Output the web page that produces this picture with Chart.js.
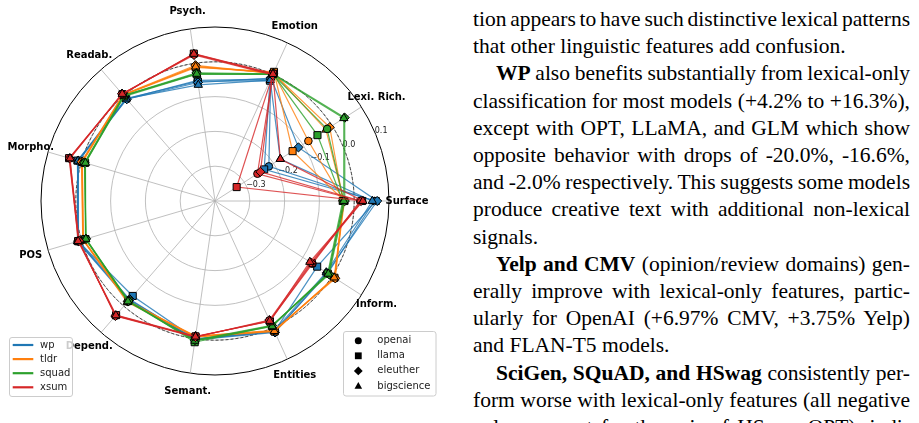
<!DOCTYPE html>
<html>
<head>
<meta charset="utf-8">
<script src="https://cdn.jsdelivr.net/npm/chart.js@4.4.0/dist/chart.umd.min.js"></script>
<style>
  html, body { margin: 0; padding: 0; background: #fff; }
  body { width: 919px; height: 423px; overflow: hidden; position: relative; }
  #chartBox { position: absolute; left: 0; top: 0; width: 440px; height: 423px; }
  #text {
    position: absolute; left: 473px; top: 6px; width: 437px;
    font-family: "Liberation Serif", "Times New Roman", serif;
    font-size: 21.5px; line-height: 27.2px; color: #000;
  }
  #text .ln { white-space: nowrap; }
  #text .ind { padding-left: 23px; }
</style>
</head>
<body>
<div id="chartBox"><canvas id="radar" width="440" height="423"></canvas></div>

<div id="text">
  <div class="ln j"><span>tion appears to have such distinctive lexical patterns</span></div>
  <div class="ln"><span>that other linguistic features add confusion.</span></div>
  <div class="ln j ind"><span><b>WP</b> also benefits substantially from lexical-only</span></div>
  <div class="ln j"><span>classification for most models (+4.2% to +16.3%),</span></div>
  <div class="ln j"><span>except with OPT, LLaMA, and GLM which show</span></div>
  <div class="ln j"><span>opposite behavior with drops of -20.0%, -16.6%,</span></div>
  <div class="ln j"><span>and -2.0% respectively. This suggests some models</span></div>
  <div class="ln j"><span>produce creative text with additional non-lexical</span></div>
  <div class="ln"><span>signals.</span></div>
  <div class="ln j ind"><span><b>Yelp and CMV</b> (opinion/review domains) gen-</span></div>
  <div class="ln j"><span>erally improve with lexical-only features, partic-</span></div>
  <div class="ln j"><span>ularly for OpenAI (+6.97% CMV, +3.75% Yelp)</span></div>
  <div class="ln"><span>and FLAN-T5 models.</span></div>
  <div class="ln j ind"><span><b>SciGen, SQuAD, and HSwag</b> consistently per-</span></div>
  <div class="ln j"><span>form worse with lexical-only features (all negative</span></div>
  <div class="ln j"><span>values except for the pair of HSwag-OPT), indi-</span></div>
</div>

<script>
// axes, counter-clockwise from the right (as in the figure)
const axisLabels = ["Surface", "Lexi. Rich.", "Emotion", "Psych.", "Readab.", "Morpho.",
  "POS", "Depend.", "Semant.", "Entities", "Inform."];
const rTicks = [-0.3, -0.2, -0.1, 0.0, 0.1];
const zeroRef = 0.0;

const domains = ["wp", "tldr", "squad", "xsum"];
const families = ["openai", "llama", "eleuther", "bigscience"];

// values per axis, same order as axisLabels
const wpOpenai     = [0.058, -0.216, -0.015, -0.050, -0.012, 0.011, 0.011, -0.024, 0.002, 0.013, -0.015];
const wpLlama      = [0.062, -0.232, -0.020, -0.053, -0.010, 0.012, 0.010, -0.039, 0.000, 0.012, -0.051];
const wpEleuther   = [0.066, -0.115, -0.012, -0.056, -0.013, 0.009, 0.009, -0.026, 0.003, 0.015, -0.018];
const wpBigscience = [0.052, -0.177, -0.018, -0.063, -0.011, 0.010, 0.012, -0.022, 0.001, 0.010, -0.020];

const tldrOpenai     = [-0.030, -0.081, 0.005, -0.009, 0.003, -0.001, -0.005, -0.017, -0.007, 0.010, 0.009];
const tldrLlama      = [-0.028, -0.135, 0.008, -0.012, 0.002, -0.002, -0.006, -0.020, -0.005, 0.012, 0.008];
const tldrEleuther   = [-0.032, -0.008, 0.003, -0.006, 0.004, 0.000, -0.004, -0.018, -0.008, 0.009, 0.011];
const tldrBigscience = [-0.030, -0.021, 0.004, -0.010, 0.003, -0.003, -0.005, -0.015, -0.006, 0.011, 0.007];

const squadOpenai     = [-0.030, -0.017, 0.000, -0.030, 0.000, -0.010, -0.013, -0.019, 0.005, -0.006, -0.012];
const squadLlama      = [-0.033, -0.050, 0.001, -0.032, -0.002, -0.011, -0.012, -0.021, 0.010, -0.005, -0.015];
const squadEleuther   = [-0.027, 0.043, 0.002, -0.028, 0.001, -0.009, -0.014, -0.020, 0.004, -0.007, -0.010];
const squadBigscience = [-0.030, 0.040, 0.000, -0.031, 0.000, -0.012, -0.013, -0.018, 0.006, -0.004, -0.013];

const xsumOpenai     = [0.017, -0.255, 0.000, 0.026, 0.007, 0.036, 0.008, 0.036, -0.006, -0.022, -0.067];
const xsumLlama      = [0.023, -0.326, 0.002, 0.028, 0.006, 0.037, 0.009, 0.034, -0.007, -0.020, -0.070];
const xsumEleuther   = [0.020, -0.245, -0.002, 0.024, 0.008, 0.035, 0.007, 0.037, -0.005, -0.024, -0.072];
const xsumBigscience = [0.025, -0.177, 0.001, 0.027, 0.007, 0.034, 0.010, 0.035, -0.006, -0.021, -0.076];

const seriesValues = [
  [wpOpenai, wpLlama, wpEleuther, wpBigscience],
  [tldrOpenai, tldrLlama, tldrEleuther, tldrBigscience],
  [squadOpenai, squadLlama, squadEleuther, squadBigscience],
  [xsumOpenai, xsumLlama, xsumEleuther, xsumBigscience],
];

const domainColors = ["#1f77b4", "#ff7f0e", "#2ca02c", "#d62728"];
const pointStyles = ["circle", "rect", "rectRot", "triangle"];
const pointSizes = [3.8, 5.0, 4.6, 4.8];

// chart.js walks clockwise, the figure goes counter-clockwise
const cw = arr => [arr[0], ...arr.slice(1).reverse()];

const alpha = (hex, a) => {
  const n = parseInt(hex.slice(1), 16);
  return `rgba(${n >> 16}, ${(n >> 8) & 255}, ${n & 255}, ${a})`;
};

const datasets = [];
domains.forEach((dom, d) => {
  families.forEach((fam, f) => {
    datasets.push({
      label: `${dom} ${fam}`,
      data: cw(seriesValues[d][f]),
      borderColor: alpha(domainColors[d], 0.8),
      borderWidth: 1.2,
      fill: false,
      pointStyle: pointStyles[f],
      pointRadius: pointSizes[f],
      pointBackgroundColor: domainColors[d],
      pointBorderColor: "#000",
      pointBorderWidth: 1,
      order: 100 - datasets.length,
    });
  });
});

const deg = Math.PI / 180;

const decorations = {
  id: "decorations",
  beforeDatasetsDraw(chart) {
    const ctx = chart.ctx;
    const s = chart.scales.r;
    // dashed reference circle at 0
    ctx.save();
    ctx.strokeStyle = "#333";
    ctx.lineWidth = 0.9;
    ctx.setLineDash([3, 2]);
    ctx.beginPath();
    ctx.arc(s.xCenter, s.yCenter, s.getDistanceFromCenterForValue(zeroRef), 0, 2 * Math.PI);
    ctx.stroke();
    ctx.restore();

    // radial tick labels along 22.5 degrees
    ctx.save();
    ctx.font = "8px 'DejaVu Sans'";
    ctx.fillStyle = "#222";
    ctx.textAlign = "left";
    ctx.textBaseline = "bottom";
    rTicks.forEach(v => {
      const dist = s.getDistanceFromCenterForValue(v);
      const x = s.xCenter + dist * Math.cos(22.5 * deg);
      const y = s.yCenter - dist * Math.sin(22.5 * deg);
      const txt = (v < 0 ? "\u2212" : "") + Math.abs(v).toFixed(1);
      ctx.fillText(txt, x - 1, y + 1);
    });
    ctx.restore();
  },
  afterDatasetsDraw(chart) {
    const ctx = chart.ctx;
    const s = chart.scales.r;
    const labels = chart.data.labels;

    // axis names
    ctx.save();
    ctx.font = "bold 10px 'DejaVu Sans'";
    ctx.fillStyle = "#000";
    ctx.textAlign = "center";
    ctx.textBaseline = "middle";
    labels.forEach((lab, i) => {
      const p = s.getPointPosition(i, s.drawingArea + 18);
      ctx.fillText(lab, p.x, p.y);
    });
    ctx.restore();

    // legend boxes
    const box = (x, y, w, h) => {
      ctx.beginPath();
      ctx.roundRect(x, y, w, h, 2.5);
      ctx.fillStyle = "rgba(255,255,255,0.8)";
      ctx.fill();
      ctx.strokeStyle = "#cccccc";
      ctx.lineWidth = 1;
      ctx.stroke();
    };

    ctx.save();
    ctx.font = "10px 'DejaVu Sans'";
    ctx.textBaseline = "middle";
    ctx.textAlign = "left";

    box(9.5, 337.5, 63, 59);
    domains.forEach((dom, d) => {
      const y = 345 + d * 14.1;
      ctx.strokeStyle = domainColors[d];
      ctx.lineWidth = 2.2;
      ctx.beginPath();
      ctx.moveTo(12.7, y);
      ctx.lineTo(33.3, y);
      ctx.stroke();
      ctx.fillStyle = "#222";
      ctx.fillText(dom, 40, y);
    });

    box(343.5, 331.5, 92.5, 64.5);
    families.forEach((fam, f) => {
      const y = 340.7 + f * 15.1;
      const x = 358.3;
      ctx.fillStyle = "#000";
      ctx.beginPath();
      if (f === 0) {
        ctx.arc(x, y, 3.5, 0, 2 * Math.PI);
      } else if (f === 1) {
        ctx.rect(x - 3.4, y - 3.4, 6.8, 6.8);
      } else if (f === 2) {
        ctx.moveTo(x, y - 4.4);
        ctx.lineTo(x + 4.4, y);
        ctx.lineTo(x, y + 4.4);
        ctx.lineTo(x - 4.4, y);
        ctx.closePath();
      } else {
        ctx.moveTo(x, y - 4);
        ctx.lineTo(x + 3.8, y + 2.8);
        ctx.lineTo(x - 3.8, y + 2.8);
        ctx.closePath();
      }
      ctx.fill();
      ctx.fillStyle = "#222";
      ctx.fillText(fam, 377.3, y);
    });
    ctx.restore();
  },
};

Chart.defaults.font.family = "'DejaVu Sans'";

new Chart(document.getElementById("radar"), {
  type: "radar",
  data: {
    labels: cw(axisLabels),
    datasets: datasets,
  },
  options: {
    responsive: false,
    devicePixelRatio: 1,
    animation: false,
    layout: { padding: { left: 41, top: 27, right: 51, bottom: 48 } },
    elements: { line: { tension: 0 } },
    plugins: { legend: { display: false }, tooltip: { enabled: false } },
    scales: {
      r: {
        min: -0.4,
        max: 0.1,
        startAngle: 90,
        ticks: { display: false, stepSize: 0.1 },
        pointLabels: { display: false },
        grid: {
          circular: true,
          color: c => Math.abs(c.tick.value - 0.1) < 1e-6 ? "#000" : "#b0b0b0",
          lineWidth: c => Math.abs(c.tick.value - 0.1) < 1e-6 ? 1 : 0.8,
        },
        angleLines: { color: "#b0b0b0", lineWidth: 0.8 },
      },
    },
  },
  plugins: [decorations],
});

// justify each text line to the column width like the typeset page
function justifyLines() {
  const col = document.getElementById("text");
  const full = col.clientWidth;
  col.querySelectorAll(".ln").forEach(line => {
    line.style.wordSpacing = "0px";
    if (!line.classList.contains("j")) return;
    const span = line.firstElementChild;
    const indent = parseFloat(getComputedStyle(line).paddingLeft) || 0;
    const natural = span.getBoundingClientRect().width;
    const gaps = (span.textContent.match(/ /g) || []).length;
    if (gaps) line.style.wordSpacing = ((full - indent - natural) / gaps) + "px";
  });
}
justifyLines();
if (document.fonts) document.fonts.ready.then(justifyLines);
</script>
</body>
</html>
